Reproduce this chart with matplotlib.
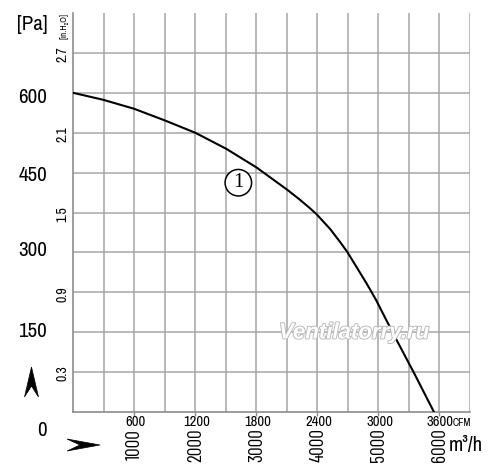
import matplotlib
matplotlib.use("Agg")
import matplotlib.pyplot as plt
from matplotlib import font_manager as fm
from matplotlib.patches import Polygon
import matplotlib.patheffects as pe

# ---- data ----
flow_m3h = [0, 490, 1000, 1505, 2000, 2505, 3000, 3505, 3715, 3880, 3990, 4210,
            4370, 4490, 4645, 4810, 4960, 5240, 5585, 5910]
pressure_pa = [600, 587, 570, 548, 525, 495, 460, 418, 399, 383, 371.5, 344,
               320, 301, 272, 241, 211, 148, 73, 0]

pa_ticks = [0, 150, 300, 450, 600]
inh2o_ticks = [0.3, 0.9, 1.5, 2.1, 2.7]
cfm_ticks = [600, 1200, 1800, 2400, 3000, 3600]
m3h_ticks = [1000, 2000, 3000, 4000, 5000, 6000]
curve_label = "1"
watermark = "Ventilatorry.ru"

PA_PER_INH2O = 250.0
M3H_PER_CFM = 1000.0 / 600.0

names = {f.name for f in fm.fontManager.ttflist}


def pick(cands):
    for c in cands:
        if c in names:
            return c
    return "Liberation Sans"


NARROW = pick(["Liberation Sans Narrow", "Archivo Narrow", "Roboto Condensed", "Asap Condensed"])
COND = pick(["Barlow Condensed", "Asap Condensed", "Archivo Narrow", "Liberation Sans Narrow"])

W, H = 500, 468
fig = plt.figure(figsize=(W / 100, H / 100), dpi=100)
L, R, T, B = 73, 470, 13, 412
ax = fig.add_axes([L / W, 1 - B / H, (R - L) / W, (B - T) / H])
ax.set_xlim(0, 6500)
ax.set_ylim(0, 750)

grid_c = "#a6a6a6"
for xv in range(500, 6501, 500):
    ax.axvline(xv, color=grid_c, lw=1.1, zorder=1)
for yv in range(75, 750, 75):
    ax.axhline(yv, color=grid_c, lw=1.1, zorder=1)

for s in ["top", "right"]:
    ax.spines[s].set_visible(False)
for s in ["left", "bottom"]:
    ax.spines[s].set_color("#8c8c8c")
    ax.spines[s].set_linewidth(1.2)

ax.set_xticks(m3h_ticks)
ax.set_xticklabels([])
ax.tick_params(axis="x", direction="out", length=3, width=1, color="#8c8c8c")
ax.set_yticks([])

ax.plot(flow_m3h, pressure_pa, color="black", lw=1.5, zorder=3,
        solid_capstyle="round", solid_joinstyle="round")


def px(x, y):
    return x / W, 1 - y / H


# Pa labels
pa_label_offsets = {0: 19, 150: -1, 300: -2, 450: 3, 600: 5}
for v in pa_ticks:
    ypix = B - v / 750 * (B - T) + pa_label_offsets[v]
    fig.text(*px(47, ypix), str(v), ha="right", va="center", fontsize=15, family=NARROW)
fig.text(*px(47, 24), "[Pa]", ha="right", va="center", fontsize=15, family=NARROW)

# in.H2O labels
for v in inh2o_ticks:
    ypix = B - v * PA_PER_INH2O / 750 * (B - T) + 1.5
    fig.text(*px(62.5, ypix), f"{v:.1f}", ha="center", va="center", rotation=90,
             fontsize=10, family=NARROW)
fig.text(*px(64, 26), "[in.H₂O]", ha="center", va="center", rotation=90,
         fontsize=6.5, family=[NARROW, "DejaVu Sans"])

# CFM labels
for v in cfm_ticks:
    xpix = L + v * M3H_PER_CFM / 6500 * (R - L) + 1.5
    if v == cfm_ticks[-1]:
        xpix -= 1
    fig.text(*px(xpix, 422), str(v), ha="center", va="center", fontsize=10.5, family=NARROW)
fig.text(*px(453, 423), "CFM", ha="left", va="center", fontsize=7.5, family=NARROW)

# m3/h labels
for v in m3h_ticks:
    xpix = L + v / 6500 * (R - L) + 1
    fig.text(*px(xpix, 445), str(v), ha="center", va="center", rotation=90,
             fontsize=14, family=COND)
fig.text(*px(449, 446), "m³/h", ha="left", va="center", fontsize=15, family=NARROW)

# curve number
ax.text(2707, 431, curve_label, ha="center", va="center", fontsize=15,
        family="Liberation Serif", zorder=4,
        bbox=dict(boxstyle="circle,pad=0.18", fc="white", ec="black", lw=1.1))

# watermark
fig.text(*px(354, 333), watermark, ha="center", va="center", fontsize=16,
         family="Liberation Sans", style="italic", weight="bold", color="white",
         path_effects=[pe.Stroke(linewidth=1.3, foreground="#b8b8b8"), pe.Normal()], zorder=5)


# axis direction arrowheads
def arrow(points):
    pts = [px(x, y) for x, y in points]
    fig.patches.append(Polygon(pts, closed=True, transform=fig.transFigure,
                               fc="black", ec="black", lw=0.5))


arrow([(31.5, 367), (38.5, 397), (31.5, 386), (24.5, 397)])
arrow([(100, 445), (67, 451), (80, 445), (67, 439)])

fig.savefig("out.png", dpi=100)
